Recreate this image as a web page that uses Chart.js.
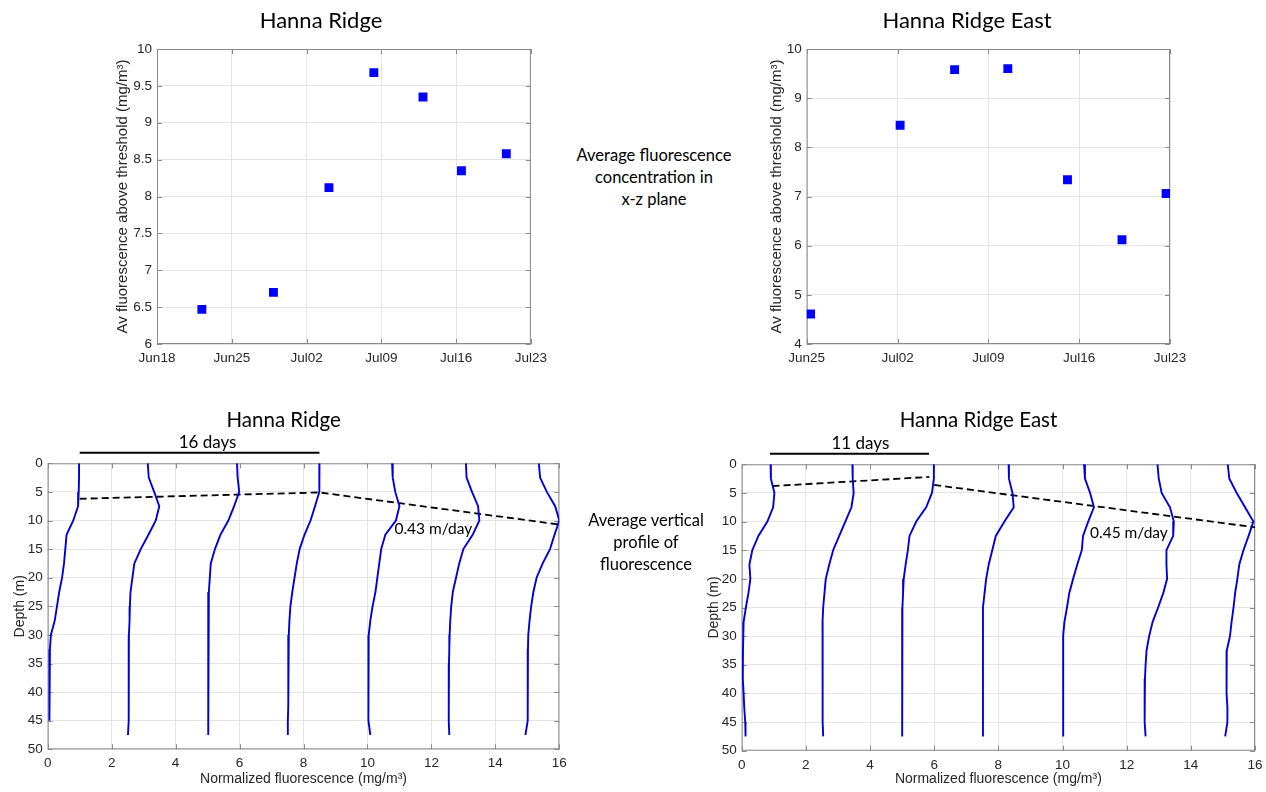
<!DOCTYPE html>
<html>
<head>
<meta charset="utf-8">
<title>Hanna Ridge fluorescence</title>
<script src="https://cdn.jsdelivr.net/npm/chart.js@4.4.1/dist/chart.umd.min.js"></script>
<style>
  html, body { margin: 0; padding: 0; background: #fff; overflow: hidden; }
  body { width: 1266px; height: 792px; position: relative; }
  canvas { position: absolute; }
  .note { position: absolute; width: 200px; font-family: Lato, sans-serif; font-size: 16.5px;
          line-height: 22px; text-align: center; color: #000; }
</style>
</head>
<body>
<canvas id="hrMean" width="443" height="372" style="left:110px;top:0px"></canvas>
<canvas id="hreMean" width="486" height="372" style="left:764px;top:0px"></canvas>
<canvas id="hrProfile" width="668" height="397" style="left:8px;top:395px"></canvas>
<canvas id="hreProfile" width="636" height="397" style="left:702px;top:395px"></canvas>
<div class="note" style="left:554px;top:144px">Average fluorescence<br>concentration in<br>x-z plane</div>
<div class="note" style="left:546px;top:509px">Average vertical<br>profile of<br>fluorescence</div>
<script>
'use strict';

// date axis: days after 18 June
const tickDays = [0, 7, 14, 21, 28, 35];
const tickDates = ['Jun18', 'Jun25', 'Jul02', 'Jul09', 'Jul16', 'Jul23'];

// mean fluorescence above threshold in the x-z plane (mg/m3)
const hrDays = [4.2, 10.9, 16.1, 20.3, 24.9, 28.5, 32.7];
const hrMeanConc = [6.47, 6.70, 8.12, 9.68, 9.35, 8.35, 8.58];
const hreDays = [7.3, 14.2, 18.4, 22.5, 27.1, 31.3, 34.7];
const hreMeanConc = [4.61, 8.45, 9.58, 9.60, 7.34, 6.12, 7.06];

// depth of each profile sample (m)
const depths = [0, 2.5, 5, 7.5, 10, 12.5, 15, 17.5, 20, 22.5, 25, 27.5, 30, 32.5, 35, 37.5, 40, 42.5, 45, 47.5];

// normalized profiles, each shifted right by 2.5 per survey
const hrProfiles = [
  [0.98, 0.98, 0.97, 0.95, 0.80, 0.59, 0.55, 0.51, 0.45, 0.36, 0.29, 0.22, 0.10, 0.07, 0.06, 0.06, 0.05, 0.05, 0.05],
  [3.13, 3.16, 3.33, 3.49, 3.38, 3.15, 2.91, 2.71, 2.65, 2.59, 2.57, 2.56, 2.54, 2.54, 2.53, 2.53, 2.53, 2.54, 2.53, 2.51],
  [5.92, 5.94, 5.99, 5.83, 5.65, 5.40, 5.23, 5.10, 5.07, 5.04, 5.03, 5.02, 5.02, 5.02, 5.02, 5.02, 5.02, 5.02, 5.02, 5.02],
  [8.50, 8.50, 8.49, 8.36, 8.22, 8.03, 7.88, 7.79, 7.72, 7.65, 7.59, 7.56, 7.54, 7.53, 7.53, 7.52, 7.52, 7.52, 7.51, 7.51],
  [10.77, 10.79, 10.87, 11.00, 10.89, 10.56, 10.43, 10.37, 10.31, 10.25, 10.16, 10.09, 10.04, 10.03, 10.03, 10.03, 10.03, 10.03, 10.03, 10.09],
  [13.08, 13.10, 13.27, 13.46, 13.50, 13.29, 13.00, 12.87, 12.77, 12.67, 12.62, 12.59, 12.57, 12.56, 12.55, 12.55, 12.54, 12.54, 12.54, 12.56],
  [15.36, 15.40, 15.61, 15.87, 16.00, 15.85, 15.71, 15.48, 15.29, 15.19, 15.12, 15.07, 15.03, 15.02, 15.02, 15.01, 15.01, 15.01, 15.01, 14.94]
];
const hreProfiles = [
  [0.90, 0.91, 1.02, 0.98, 0.80, 0.52, 0.33, 0.24, 0.27, 0.21, 0.13, 0.06, 0.05, 0.04, 0.03, 0.04, 0.06, 0.08, 0.11, 0.12],
  [3.45, 3.46, 3.49, 3.42, 3.23, 3.04, 2.85, 2.73, 2.62, 2.58, 2.54, 2.52, 2.52, 2.52, 2.52, 2.52, 2.52, 2.53, 2.53, 2.54],
  [5.99, 5.99, 5.93, 5.75, 5.44, 5.23, 5.18, 5.11, 5.05, 5.03, 5.01, 5.00, 5.00, 5.00, 5.00, 5.00, 5.00, 5.00, 5.01, 5.01],
  [8.32, 8.33, 8.44, 8.48, 8.19, 7.92, 7.81, 7.70, 7.62, 7.57, 7.52, 7.52, 7.52, 7.52, 7.52, 7.52, 7.52, 7.52, 7.52, 7.52],
  [10.67, 10.70, 10.86, 10.98, 10.80, 10.64, 10.60, 10.46, 10.33, 10.21, 10.14, 10.06, 10.02, 10.02, 10.02, 10.02, 10.02, 10.02, 10.02, 10.03],
  [12.96, 13.00, 13.09, 13.35, 13.47, 13.45, 13.24, 13.24, 13.26, 13.14, 12.98, 12.81, 12.70, 12.62, 12.59, 12.57, 12.56, 12.56, 12.56, 12.59],
  [15.15, 15.20, 15.43, 15.69, 15.95, 15.80, 15.64, 15.51, 15.45, 15.38, 15.33, 15.27, 15.22, 15.12, 15.10, 15.12, 15.12, 15.14, 15.14, 15.07]
];

// depth of the subsurface maximum, traced across the profiles
const hrPeakX = [1.0, 8.5, 16.0];
const hrPeakDepth = [6.2, 5.1, 10.7];
const hreRiseX = [0.96, 5.85];
const hreRiseDepth = [3.8, 2.2];
const hreSinkX = [6.0, 16.0];
const hreSinkDepth = [3.6, 11.0];

// time bracket above each profile plot and the sinking-rate label
const hrSpan = [1.0, 8.5];
const hrSpanLabelX = 5.0;
const hreSpan = [0.88, 5.84];
const hreSpanLabelX = 3.7;
const hrRateAt = [12.06, 11.5];
const hreRateAt = [12.07, 12.06];

const SANS = 'Liberation Sans, Arial, sans-serif';
const INK = '#262626';
const GRID = '#e4e4e4';
const FRAME = '#8a8a8a';

const toPoints = (xs, ys) => xs.map((v, i) => ({x: v, y: ys[i]}));

// MATLAB-like box with inward tick marks on every side
const framePlugin = {
  id: 'frame',
  beforeDatasetsDraw(chart) {
    const {ctx, chartArea: a, scales: {x, y}} = chart;
    const len = 5;
    ctx.save();
    ctx.strokeStyle = FRAME;
    ctx.lineWidth = 1;
    ctx.strokeRect(a.left + 0.5, a.top + 0.5, a.width - 1, a.height - 1);
    ctx.beginPath();
    x.ticks.forEach(t => {
      const px = Math.round(x.getPixelForValue(t.value)) + 0.5;
      ctx.moveTo(px, a.bottom); ctx.lineTo(px, a.bottom - len);
      ctx.moveTo(px, a.top); ctx.lineTo(px, a.top + len);
    });
    y.ticks.forEach(t => {
      const py = Math.round(y.getPixelForValue(t.value)) + 0.5;
      ctx.moveTo(a.left, py); ctx.lineTo(a.left + len, py);
      ctx.moveTo(a.right, py); ctx.lineTo(a.right - len, py);
    });
    ctx.stroke();
    ctx.restore();
  }
};

// "N days" bracket over the plot and the rate label inside it
const notesPlugin = {
  id: 'notes',
  afterDatasetsDraw(chart, args, opts) {
    if (!opts.span) return;
    const {ctx, chartArea: a, scales: {x, y}} = chart;
    ctx.save();
    ctx.strokeStyle = '#000';
    ctx.lineWidth = 2;
    ctx.beginPath();
    ctx.moveTo(x.getPixelForValue(opts.span[0]), a.top - 10.5);
    ctx.lineTo(x.getPixelForValue(opts.span[1]), a.top - 10.5);
    ctx.stroke();
    ctx.fillStyle = '#000';
    ctx.textAlign = 'center';
    ctx.textBaseline = 'middle';
    ctx.font = '17px Lato';
    ctx.fillText(opts.spanLabel, x.getPixelForValue(opts.spanLabelX), a.top - 21);
    ctx.font = '15.5px Lato';
    ctx.fillText(opts.rateLabel, x.getPixelForValue(opts.rateAt[0]), y.getPixelForValue(opts.rateAt[1]));
    ctx.restore();
  }
};

// plain numbers: 9.5, 9, 10 (no trailing zeros)
const plainNumber = v => String(+v.toFixed(2));

function axes(o) {
  return {
    x: {
      type: 'linear', min: o.x[0], max: o.x[1],
      ticks: {
        stepSize: o.x[2], color: INK, padding: 6, maxRotation: 0, autoSkip: false,
        font: {family: SANS, size: 13.5},
        callback: o.xLabel || plainNumber
      },
      grid: {color: GRID, drawTicks: false},
      border: {display: false},
      title: {display: !!o.xTitle, text: o.xTitle, color: INK, font: {family: SANS, size: o.titleSize}},
      afterFit: s => { s.height = o.xHeight; }
    },
    y: {
      type: 'linear', min: o.y[0], max: o.y[1], reverse: !!o.reverse,
      ticks: {stepSize: o.y[2], color: INK, padding: 5, font: {family: SANS, size: 13.5}, callback: plainNumber},
      grid: {color: GRID, drawTicks: false},
      border: {display: false},
      title: {display: true, text: o.yTitle, color: INK, font: {family: SANS, size: o.titleSize}},
      afterFit: s => { s.width = o.yWidth; }
    }
  };
}

function baseOptions(title, titleSize, titlePad, pad, scales, notes) {
  return {
    responsive: false,
    animation: false,
    layout: {padding: pad},
    scales: scales,
    plugins: {
      legend: {display: false},
      tooltip: {enabled: false},
      title: {display: true, text: title, color: '#000', padding: titlePad,
              font: {family: 'Lato', size: titleSize, weight: 'normal'}},
      notes: notes || {}
    }
  };
}

function meanChart(id, title, days, conc, pad, xr, yr, yWidth) {
  return new Chart(document.getElementById(id), {
    type: 'scatter',
    data: {
      datasets: [{
        data: toPoints(days, conc),
        pointStyle: 'rect', pointRadius: 6.3, borderWidth: 0,
        backgroundColor: '#0000ff'
      }]
    },
    options: baseOptions(title, 22, {top: 8, bottom: 14.6}, pad, axes({
      x: xr, y: yr, xHeight: 28, yWidth: yWidth, titleSize: 15,
      yTitle: 'Av fluorescence above threshold (mg/m\u00b3)',
      xLabel: v => tickDates[tickDays.indexOf(v)]
    })),
    plugins: [framePlugin]
  });
}

function profileChart(id, title, profiles, peaks, pad, titlePad, xHeight, yWidth, notes) {
  const lines = profiles.map(p => ({
    data: toPoints(p, depths.slice(0, p.length)),
    showLine: true, pointRadius: 0, borderColor: '#0000d8', borderWidth: 1.9
  }));
  const dashed = peaks.map(pk => ({
    data: toPoints(pk[0], pk[1]),
    showLine: true, pointRadius: 0, borderColor: '#000', borderWidth: 1.8, borderDash: [7, 4]
  }));
  return new Chart(document.getElementById(id), {
    type: 'scatter',
    data: {datasets: lines.concat(dashed)},
    options: baseOptions(title, 20.5, titlePad, pad, axes({
      x: [0, 16, 2], y: [0, 50, 5], reverse: true,
      xHeight: xHeight, yWidth: yWidth, titleSize: 14,
      xTitle: 'Normalized fluorescence (mg/m\u00b3)', yTitle: 'Depth (m)'
    }), notes),
    plugins: [framePlugin, notesPlugin]
  });
}

meanChart('hrMean', 'Hanna Ridge', hrDays, hrMeanConc,
  {left: 0, right: 21, top: 0, bottom: 0}, [0, 35, 7], [6, 10, 0.5], 47);
meanChart('hreMean', 'Hanna Ridge East', hreDays, hreMeanConc,
  {left: 0, right: 80, top: 0, bottom: 0}, [7, 35, 7], [4, 10, 1], 42.7);

profileChart('hrProfile', 'Hanna Ridge', hrProfiles, [[hrPeakX, hrPeakDepth]],
  {left: 0, right: 116.7, top: 0, bottom: 0}, {top: 12.7, bottom: 31}, 42.7, 39.7,
  {span: hrSpan, spanLabel: '16 days', spanLabelX: hrSpanLabelX, rateLabel: '0.43 m/day', rateAt: hrRateAt});
profileChart('hreProfile', 'Hanna Ridge East', hreProfiles,
  [[hreRiseX, hreRiseDepth], [hreSinkX, hreSinkDepth]],
  {left: 0, right: 83, top: 0, bottom: 0}, {top: 12.7, bottom: 32}, 41.3, 39.7,
  {span: hreSpan, spanLabel: '11 days', spanLabelX: hreSpanLabelX, rateLabel: '0.45 m/day', rateAt: hreRateAt});
</script>
</body>
</html>
